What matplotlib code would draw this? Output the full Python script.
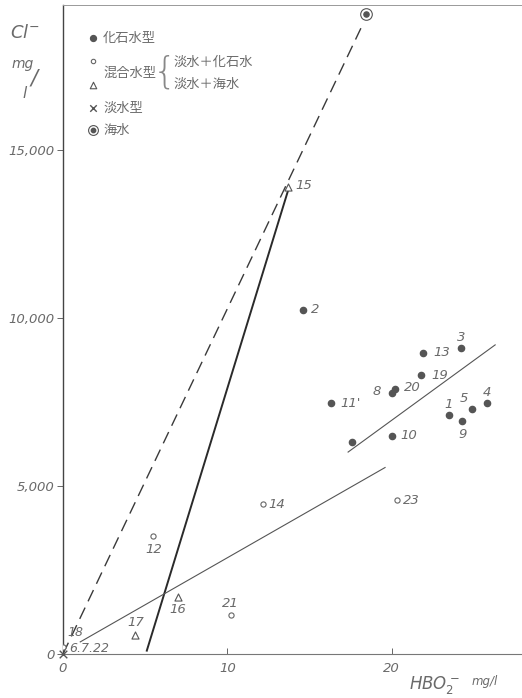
import matplotlib
matplotlib.use("Agg")
import matplotlib.pyplot as plt

# ---------------- data ----------------
fossil_ids = ["1", "2", "3", "4", "5", "8", "9", "10", "11'", "13", "19", "20", ""]
fossil_x = [23.5, 14.6, 24.2, 25.8, 24.9, 20.0, 24.3, 20.0, 16.3, 21.9, 21.8, 20.2, 17.6]
fossil_y = [7100, 10250, 9100, 7470, 7300, 7770, 6930, 6490, 7470, 8960, 8300, 7890, 6310]

mixed_c_ids = ["12", "14", "21", "23", "18"]
mixed_c_x = [5.5, 12.2, 10.2, 20.3, 0.0]
mixed_c_y = [3510, 4460, 1160, 4580, 200]

mixed_t_ids = ["15", "16", "17"]
mixed_t_x = [13.7, 7.0, 4.4]
mixed_t_y = [13900, 1700, 580]

fresh_ids = ["6.7.22"]
fresh_x = [0.0]
fresh_y = [0]

sea_x = [18.45]
sea_y = [19050]

dash_line_x = [0.0, 18.3]
dash_line_y = [0, 18800]
steep_line_x = [5.1, 13.7]
steep_line_y = [100, 13800]
low_line_x = [1.05, 19.6]
low_line_y = [360, 5550]
up_line_x = [17.35, 26.3]
up_line_y = [6010, 9200]

yticks = [0, 5000, 10000, 15000]
ytick_labels = ["0", "5,000", "10,000", "15,000"]
xticks = [0, 10, 20]
xtick_labels = ["0", "10", "20"]

legend_labels = ["化石水型", "混合水型", "淡水＋化石水", "淡水＋海水", "淡水型", "海水"]

# ---------------- figure ----------------
W, H = 522, 698
fig = plt.figure(figsize=(W / 100, H / 100), dpi=100)
fig.patch.set_facecolor("white")

ax_l, ax_r, ax_t, ax_b = 63, 522, 5, 654
ax = fig.add_axes([ax_l / W, 1 - ax_b / H, (ax_r - ax_l) / W, (ax_b - ax_t) / H])
ax.set_xlim(0, (ax_r - 62.5) / 16.45)
ax.set_ylim(0, (ax_b - ax_t) / 0.0336)

txt_col = "#6a6a6a"
line_col = "#3a3a3a"
dot_col = "#555555"
tick_font = dict(style="italic", color=txt_col, fontsize=9.5, family="DejaVu Sans")
jp = ["Noto Sans CJK JP", "DejaVu Sans"]

ax.spines["right"].set_visible(False)
ax.spines["left"].set_color("#444444")
ax.spines["left"].set_linewidth(1.0)
ax.spines["bottom"].set_color("#777777")
ax.spines["bottom"].set_linewidth(0.8)
ax.spines["top"].set_color("#999999")
ax.spines["top"].set_linewidth(0.7)

ax.set_yticks(yticks)
ax.set_yticklabels(ytick_labels, **tick_font)
ax.set_xticks(xticks)
ax.set_xticklabels(xtick_labels, **tick_font)
ax.tick_params(axis="y", direction="out", length=4, width=0.7, color="#666666", pad=2)
ax.tick_params(axis="x", direction="in", length=4, width=0.7, color="#666666", pad=6)

# lines
ax.plot(dash_line_x, dash_line_y, color=line_col, lw=1.0, dashes=(9, 5))
ax.plot(steep_line_x, steep_line_y, color="#2a2a2a", lw=1.4)
ax.plot(low_line_x, low_line_y, color="#555555", lw=0.8)
ax.plot(up_line_x, up_line_y, color="#555555", lw=0.8)

# points
ax.scatter(fossil_x, fossil_y, s=20, color=dot_col, zorder=3)
ax.scatter(mixed_c_x, mixed_c_y, s=14, facecolors="white", edgecolors="#666666", linewidths=0.8, zorder=3)
ax.scatter(mixed_t_x, mixed_t_y, s=26, marker="^", facecolors="white", edgecolors="#555555", linewidths=0.8, zorder=3)
ax.scatter(fresh_x, fresh_y, s=30, marker="x", color="#555555", linewidths=1.0, zorder=3, clip_on=False)
ax.scatter(sea_x, sea_y, s=70, facecolors="white", edgecolors="#555555", linewidths=0.8, zorder=3)
ax.scatter(sea_x, sea_y, s=14, color=dot_col, zorder=4)

lab = dict(style="italic", color=txt_col, fontsize=9.5, family="DejaVu Sans",
           textcoords="offset points", va="center")
k = 0.72  # px -> pt
fossil_off = {"1": (-1, 11), "2": (8, 0), "3": (0, 11), "4": (0, 11), "5": (-4, 10), "8": (-11, 1),
              "9": (0, -13), "10": (9, 0), "11'": (10, 0), "13": (10, 0), "19": (10, 0), "20": (9, 1), "": (0, 0)}
for i, x, y in zip(fossil_ids, fossil_x, fossil_y):
    dx, dy = fossil_off[i]
    ha = "left" if dx > 3 else ("right" if dx < -3 else "center")
    ax.annotate(i, (x, y), xytext=(dx * k, dy * k), ha=ha, **lab)
mixed_off = {"12": (0, -13), "14": (5, 0), "21": (0, 12), "23": (6, 0), "18": (4, 15)}
for i, x, y in zip(mixed_c_ids, mixed_c_x, mixed_c_y):
    dx, dy = mixed_off[i]
    ha = "left" if dx > 3 else "center"
    fs = 9 if i == "18" else 9.5
    ax.annotate(i, (x, y), xytext=(dx * k, dy * k), ha=ha, **{**lab, "fontsize": fs})
tri_off = {"15": (7, 1), "16": (0, -13), "17": (0, 12)}
for i, x, y in zip(mixed_t_ids, mixed_t_x, mixed_t_y):
    dx, dy = tri_off[i]
    ha = "left" if dx > 3 else "center"
    ax.annotate(i, (x, y), xytext=(dx * k, dy * k), ha=ha, **lab)
for i, x, y in zip(fresh_ids, fresh_x, fresh_y):
    ax.annotate(i, (x, y), xytext=(6 * k, 6 * k), ha="left", **{**lab, "fontsize": 9})

# legend (hand-built, inside axes)
def axf(px, py):
    return ((px - ax_l) / (ax_r - ax_l), (ax_b - py) / (ax_b - ax_t))

tr = ax.transAxes
mx = 93
ax.scatter(*axf(mx, 38), s=18, color=dot_col, transform=tr, clip_on=False)
ax.scatter(*axf(mx, 61), s=10, facecolors="white", edgecolors="#666666", linewidths=0.8, transform=tr)
ax.scatter(*axf(mx, 85), s=22, marker="^", facecolors="white", edgecolors="#555555", linewidths=0.8, transform=tr)
ax.scatter(*axf(mx, 108), s=22, marker="x", color="#555555", linewidths=1.0, transform=tr)
ax.scatter(*axf(mx, 130), s=50, facecolors="white", edgecolors="#555555", linewidths=0.8, transform=tr)
ax.scatter(*axf(mx, 130), s=10, color=dot_col, transform=tr)

leg_font = dict(family=jp, color=txt_col, fontsize=9.5, va="center", ha="left", transform=tr)
ax.text(*axf(103, 38), legend_labels[0], **leg_font)
ax.text(*axf(103, 73), legend_labels[1], **leg_font)
ax.text(*axf(165, 72), "{", family="DejaVu Sans", color="#888888", fontsize=27, fontweight="light",
        va="center", ha="center", transform=tr)
ax.text(*axf(174, 62), legend_labels[2], **leg_font)
ax.text(*axf(174, 84), legend_labels[3], **leg_font)
ax.text(*axf(103, 108), legend_labels[4], **leg_font)
ax.text(*axf(103, 130), legend_labels[5], **leg_font)

# axis titles
ylab = dict(style="italic", color=txt_col, family="DejaVu Sans", ha="center", va="center")
fig.text(25 / W, 1 - 33 / H, r"$Cl^{-}$", fontsize=13, color=txt_col, ha="center", va="center")
fig.text(23 / W, 1 - 64 / H, "mg", fontsize=10, **ylab)
fig.text(34 / W, 1 - 79 / H, "/", fontsize=15, **ylab)
fig.text(25 / W, 1 - 94 / H, "l", fontsize=11, **ylab)
fig.text(435 / W, 1 - 685 / H, r"$HBO_2^-$", fontsize=12, color=txt_col, ha="center", va="center")
fig.text(485 / W, 1 - 681 / H, "mg/l", fontsize=8.5, **ylab)

fig.savefig("out.png", dpi=100, facecolor="white")
